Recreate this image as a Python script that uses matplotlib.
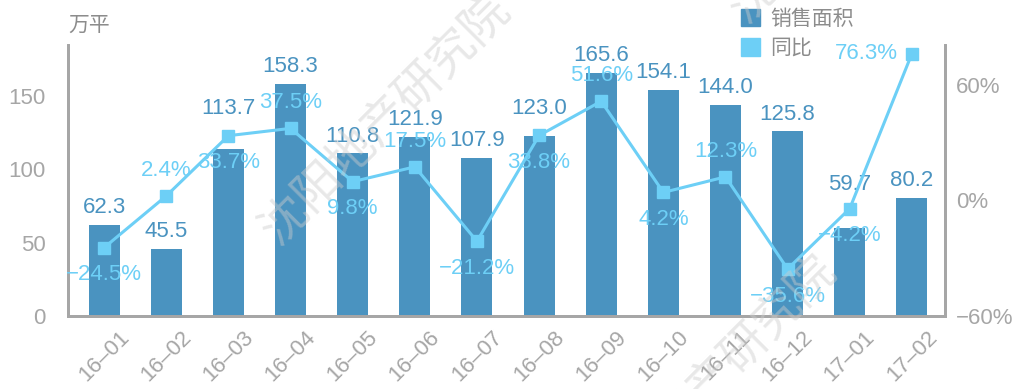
import matplotlib
matplotlib.use("Agg")
import matplotlib.pyplot as plt
from matplotlib.patches import Patch

plt.rcParams['font.family'] = ['Liberation Sans', 'Noto Sans CJK SC', 'DejaVu Sans']

months = ['16–01', '16–02', '16–03', '16–04', '16–05', '16–06', '16–07',
          '16–08', '16–09', '16–10', '16–11', '16–12', '17–01', '17–02']
area = [62.3, 45.5, 113.7, 158.3, 110.8, 121.9, 107.9,
        123.0, 165.6, 154.1, 144.0, 125.8, 59.7, 80.2]
yoy = [-24.5, 2.4, 33.7, 37.5, 9.8, 17.5, -21.2,
       33.8, 51.6, 4.2, 12.3, -35.6, -4.2, 76.3]
# where each yoy label sits relative to its marker
yoy_pos = ['below', 'above', 'below', 'above', 'below', 'above', 'below',
           'below', 'above', 'below', 'above', 'below', 'below', 'left']
# extra lift (points) for bar labels that would hit the line
bar_lift = {2: 17, 7: 7, 12: 19}

bar_c = '#4a93c0'
line_c = '#6dcff6'
grey = '#a6a6a6'
fs = 16

fig = plt.figure(figsize=(10.17, 3.89), dpi=100)
ax = fig.add_axes([0.067, 0.188, 0.862, 0.697])
ax2 = ax.twinx()

x = list(range(len(months)))
ax.bar(x, area, width=0.5, color=bar_c, zorder=2)
for i, v in enumerate(area):
    ax.annotate(f'{v:.1f}', (i, v), xytext=(0, 5 + bar_lift.get(i, 0)),
                textcoords='offset points', ha='center', va='bottom',
                fontsize=fs, color=bar_c)

ax2.plot(x, yoy, color=line_c, lw=2.2, marker='s', ms=9, zorder=3)
for i, v in enumerate(yoy):
    s = f'{v:.1f}%'.replace('-', '−')
    p = yoy_pos[i]
    if p == 'above':
        off, ha, va = (0, 11), 'center', 'bottom'
    elif p == 'below':
        off, ha, va = (0, -12), 'center', 'top'
    else:
        off, ha, va = (-10, 0), 'right', 'center'
    ax2.annotate(s, (i, v), xytext=off, textcoords='offset points',
                 ha=ha, va=va, fontsize=fs, color=line_c, zorder=4)

ax.set_xlim(-0.58, 13.53)
ax.set_ylim(0, 185)
ax2.set_ylim(-60, 81)
ax.set_yticks([0, 50, 100, 150])
ax2.set_yticks([-60, 0, 60])
ax2.set_yticklabels(['−60%', '0%', '60%'])
ax.set_xticks(x)
ax.set_xticklabels(months, rotation=45, ha='center')

for a in (ax, ax2):
    a.spines['top'].set_visible(False)
    for s in ('left', 'right', 'bottom'):
        a.spines[s].set_color(grey)
        a.spines[s].set_linewidth(2)
    a.tick_params(length=0, colors=grey, labelsize=fs)
ax.tick_params(axis='y', pad=16)
ax.tick_params(axis='x', pad=8)
ax2.tick_params(axis='y', pad=8)

fig.text(0.067, 0.935, '万平', fontsize=15, color='#8c8c8c', va='center')

handles = [Patch(color=bar_c), Patch(color=line_c)]
fig.legend(handles, ['销售面积', '同比'], loc='upper left',
           bbox_to_anchor=(0.71, 1.025), frameon=False, fontsize=15,
           labelcolor='#8c8c8c', handlelength=0.9, handleheight=0.9,
           handletextpad=0.5, labelspacing=0.45)

# faint watermark
for tx, ty in [(-0.13, 0.2), (0.38, 0.69), (0.70, 0.02), (1.15, 0.43), (0.84, 1.26)]:
    fig.text(tx, ty, '沈阳地产研究院', fontsize=34, color='#cccccc',
             alpha=0.45, rotation=45, ha='center', va='center', zorder=10)

fig.savefig('out.png')
